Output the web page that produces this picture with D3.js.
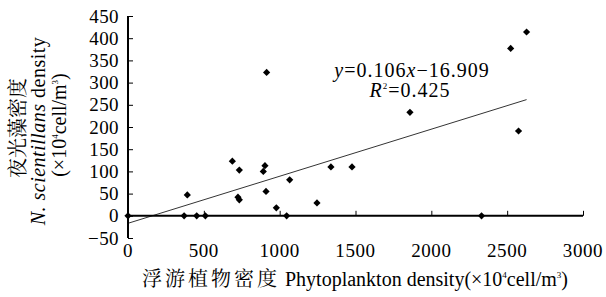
<!DOCTYPE html>
<html>
<head>
<meta charset="utf-8">
<script src="https://cdn.jsdelivr.net/npm/d3@7"></script>
<style>
  body { margin: 0; background: #fff; }
  svg { display: block; }
</style>
</head>
<body>
<div id="chart"></div>
<script>
// phytoplankton density (x10^4 cell/m3)
const phyto = [0, 370, 453, 510, 391, 688, 734, 725, 734, 892, 903, 914, 910, 978,
  1046, 1066, 1246, 1338, 1477, 1859, 2331, 2523, 2575, 2628];
// N. scintillans density (x10^4 cell/m3)
const noct = [0, 0, 0, 0, 47, 123, 103, 42, 36, 100, 113, 323, 55, 18,
  0, 81, 29, 110, 110, 233, 0, 377, 191, 414];
const xTicks = [0, 500, 1000, 1500, 2000, 2500, 3000];
const yTicks = [-50, 0, 50, 100, 150, 200, 250, 300, 350, 400, 450];
const slope = 0.106;
const intercept = -16.909;
const r2 = '0.425';

const width = 606, height = 297;
const serif = '"Liberation Serif"';
const cjk = '"Noto Serif CJK SC"';

const svg = d3.select('#chart')
  .append('svg')
  .attr('width', width)
  .attr('height', height);

const x = d3.scaleLinear().domain([0, 3000]).range([128, 583]);
const y = d3.scaleLinear().domain([-50, 450]).range([238, 16]);

// axes
const yAxis = svg.append('g')
  .attr('transform', `translate(${x(0)},0)`)
  .call(d3.axisRight(y).tickValues(yTicks).tickSize(5).tickFormat(''));
yAxis.select('.domain').attr('stroke-width', 2).attr('d', `M0,${y(-50)}V${y(450)}`);

svg.selectAll('.ylab')
  .data(yTicks)
  .enter().append('text')
  .attr('class', 'ylab')
  .attr('x', 119)
  .attr('y', d => y(d) + 6.5)
  .attr('text-anchor', 'end')
  .style('font-family', serif)
  .style('font-size', '19px')
  .style('letter-spacing', '0.4px')
  .text(d => d < 0 ? '\u2212' + Math.abs(d) : d);

const xAxis = svg.append('g')
  .attr('transform', `translate(0,${y(0)})`)
  .call(d3.axisTop(x).tickValues(xTicks).tickSize(5).tickFormat(''));
xAxis.select('.domain').attr('stroke-width', 2).attr('d', `M${x(0)},0H${x(3000)}`);
xAxis.select('.tick').remove();

svg.selectAll('.xlab')
  .data(xTicks)
  .enter().append('text')
  .attr('class', 'xlab')
  .attr('x', d => x(d))
  .attr('y', 257)
  .attr('text-anchor', 'middle')
  .style('font-family', serif)
  .style('font-size', '19px')
  .style('letter-spacing', '0.6px')
  .text(d => d);

// trend line
const xMax = d3.max(phyto);
svg.append('line')
  .attr('x1', x(0)).attr('y1', y(intercept))
  .attr('x2', x(xMax)).attr('y2', y(slope * xMax + intercept))
  .attr('stroke', '#000')
  .attr('stroke-width', 0.8);

// points
svg.selectAll('.pt')
  .data(phyto.map((d, i) => [d, noct[i]]))
  .enter().append('path')
  .attr('class', 'pt')
  .attr('d', d3.symbol(d3.symbolSquare, 26))
  .attr('transform', d => `translate(${x(d[0])},${y(d[1])}) rotate(45)`)
  .attr('fill', '#000');

// equation
const eq = svg.append('text')
  .attr('x', 412).attr('y', 77)
  .attr('text-anchor', 'middle')
  .style('font-family', serif)
  .style('font-size', '20px')
  .style('letter-spacing', '1px');
eq.append('tspan').style('font-style', 'italic').text('y');
eq.append('tspan').text(`=${slope.toFixed(3)}`);
eq.append('tspan').style('font-style', 'italic').text('x');
eq.append('tspan').text(`\u2212${Math.abs(intercept)}`);

const rt = svg.append('text')
  .attr('x', 410).attr('y', 97)
  .attr('text-anchor', 'middle')
  .style('font-family', serif)
  .style('font-size', '20px')
  .style('letter-spacing', '1px');
rt.append('tspan').style('font-style', 'italic').text('R');
rt.append('tspan').attr('dy', -8).style('font-size', '9px').text('2');
rt.append('tspan').attr('dy', 8).text(`=${r2}`);

// y axis title
const yt = svg.append('g').attr('transform', 'translate(0,128) rotate(-90)');
yt.append('text')
  .attr('x', 0).attr('y', 25)
  .attr('text-anchor', 'middle')
  .style('font-family', cjk)
  .style('font-size', '20px')
  .text('夜光藻密度');
const yt2 = yt.append('text')
  .attr('x', -3).attr('y', 45)
  .attr('text-anchor', 'middle')
  .style('font-family', serif)
  .style('font-size', '20px')
  .style('letter-spacing', '0.5px');
yt2.append('tspan').style('font-style', 'italic').text('N. scientillans');
yt2.append('tspan').text(' density');
const yt3 = yt.append('text')
  .attr('x', 3).attr('y', 66)
  .attr('text-anchor', 'middle')
  .style('font-family', serif)
  .style('font-size', '20px');
yt3.append('tspan').text('(\u00d710');
yt3.append('tspan').attr('dy', -8).style('font-size', '9px').text('4');
yt3.append('tspan').attr('dy', 8).text('cell/m');
yt3.append('tspan').attr('dy', -8).style('font-size', '9px').text('3');
yt3.append('tspan').attr('dy', 8).text(')');

// x axis title
const xt = svg.append('text')
  .attr('x', 355).attr('y', 286)
  .attr('text-anchor', 'middle')
  .style('font-family', serif)
  .style('font-size', '20px');
xt.append('tspan')
  .style('font-family', cjk)
  .style('letter-spacing', '3px')
  .text('浮游植物密度');
xt.append('tspan').text(' Phytoplankton density(\u00d710');
xt.append('tspan').attr('dy', -8).style('font-size', '9px').text('4');
xt.append('tspan').attr('dy', 8).text('cell/m');
xt.append('tspan').attr('dy', -8).style('font-size', '9px').text('3');
xt.append('tspan').attr('dy', 8).text(')');
</script>
</body>
</html>
